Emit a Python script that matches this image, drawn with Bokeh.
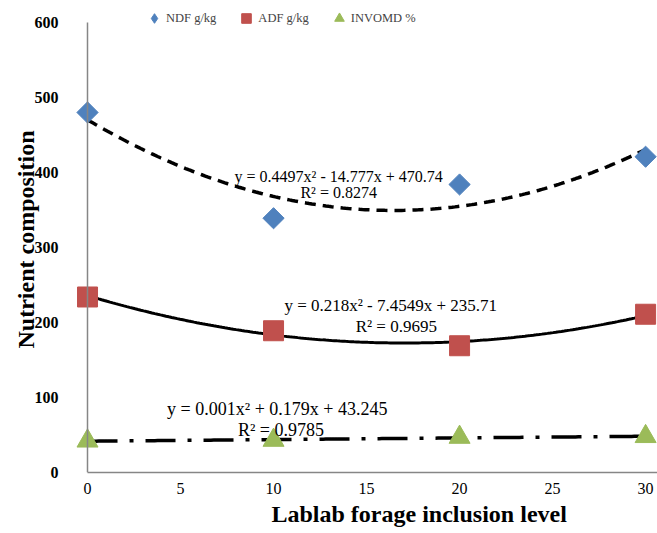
import numpy as np
from bokeh.plotting import figure
from bokeh.models import (Legend, LegendItem, Label, Range1d, FixedTicker, LinearAxis,
                          ColumnDataSource, Title)
from bokeh.embed import file_html
from bokeh.resources import INLINE

# ---- data ----
levels = [0, 10, 20, 30]
ndf = [480, 339, 384, 421]
adf = [234, 189, 169, 211]
invomd = [42, 43, 47, 48]

x_ticks = [0, 5, 10, 15, 20, 25, 30]
y_ticks = [0, 100, 200, 300, 400, 500, 600]

series_names = ["NDF g/kg", "ADF g/kg", "INVOMD %"]
ndf_eq = ["y = 0.4497x\u00b2 - 14.777x + 470.74", "R\u00b2 = 0.8274"]
adf_eq = ["y = 0.218x\u00b2 - 7.4549x + 235.71", "R\u00b2 = 0.9695"]
inv_eq = ["y = 0.001x\u00b2 + 0.179x + 43.245", "R\u00b2 = 0.9785"]
x_title = "Lablab forage inclusion level"
y_title = "Nutrient composition"

# label anchor positions (data units) for the equation boxes
ndf_eq_pos = [(13.5, 395), (13.5, 373)]
adf_eq_pos = [(16.3, 223), (16.6, 195)]
inv_eq_pos = [(10.2, 84), (10.4, 57)]

FONT = "Liberation Serif"
BLUE = "#4F81BD"
RED = "#C0504D"
GREEN = "#9BBB59"
AXIS_GRAY = "#868686"

p = figure(width=657, height=533, output_backend="svg", toolbar_location=None,
           x_range=Range1d(-0.7, 30.64), y_range=Range1d(0, 621.3),
           min_border_left=74, min_border_right=0, min_border_top=6, min_border_bottom=61)
p.outline_line_color = None
p.grid.visible = False
p.background_fill_color = "white"
p.border_fill_color = "white"

# axes
p.xaxis.ticker = FixedTicker(ticks=x_ticks)
p.yaxis.ticker = FixedTicker(ticks=y_ticks)
p.xaxis.bounds = (0, 30.64)
for ax in (p.xaxis, p.yaxis):
    ax.major_tick_line_color = None
    ax.minor_tick_line_color = None
    ax.major_tick_out = 0
    ax.major_tick_in = 0
    ax.major_label_text_font = FONT
    ax.major_label_text_color = "black"
    ax.axis_label_text_font = FONT
    ax.axis_label_text_font_style = "bold"
    ax.axis_label_text_color = "black"
p.xaxis.axis_line_color = AXIS_GRAY
p.xaxis.axis_line_width = 1.5
p.yaxis.axis_line_color = None
p.xaxis.major_label_text_font_size = "16px"
p.yaxis.major_label_text_font_size = "16px"
p.yaxis.major_label_text_font_style = "bold"
p.xaxis.major_label_standoff = 10
p.yaxis.major_label_standoff = 16
p.yaxis.axis_label = y_title
p.yaxis.axis_label_text_font_size = "24px"
p.yaxis.axis_label_standoff = -7

# x-axis title (the original plot area runs on past the cropped right edge,
# so its title sits right of the visible frame's centre)
p.add_layout(Title(text=x_title, align="left", offset=197, standoff=4,
                   text_font=FONT, text_font_size="24px", text_font_style="bold",
                   text_color="black"), "below")

# vertical axis line at x = 0, running from 0 to 600 only
yline = LinearAxis(fixed_location=0, bounds=(0, 600), ticker=FixedTicker(ticks=[]),
                   axis_line_color=AXIS_GRAY, axis_line_width=1.5,
                   major_tick_line_color=None, minor_tick_line_color=None,
                   major_tick_out=0, major_tick_in=0, major_label_text_font_size="0px")
p.add_layout(yline, "left")

# trendlines (2nd-order polynomial fits of each series)
xs = np.linspace(0, 30, 200)
for vals, dash, w in ((ndf, "11 7", 3.5), (adf, "solid", 3), (invomd, "30 12 4 12", 3.5)):
    coef = np.polyfit(levels, vals, 2)
    p.line(xs, np.polyval(coef, xs), line_color="black", line_width=w, line_dash=dash)

src = ColumnDataSource(dict(x=levels, ndf=ndf, adf=adf, inv=invomd))
r_ndf = p.scatter("x", "ndf", source=src, marker="square", angle=np.pi / 4, size=15,
                  fill_color=BLUE, line_color=BLUE)
r_adf = p.scatter("x", "adf", source=src, marker="square", size=20,
                  fill_color=RED, line_color=RED)
r_inv = p.scatter("x", "inv", source=src, marker="triangle", size=21,
                  fill_color=GREEN, line_color=GREEN)
# legend key for NDF: a diamond (legend keys are drawn unrotated)
r_ndf_key = p.scatter("x", "ndf", source=src, marker="diamond", size=0,
                      fill_color=BLUE, line_color=BLUE)

legend = Legend(items=[LegendItem(label=series_names[0], renderers=[r_ndf_key]),
                       LegendItem(label=series_names[1], renderers=[r_adf]),
                       LegendItem(label=series_names[2], renderers=[r_inv])],
                location=(68, 442), orientation="horizontal",
                glyph_width=24, glyph_height=24, label_standoff=-4, spacing=18,
                padding=0, margin=0, border_line_color=None, background_fill_alpha=0,
                label_text_font=FONT, label_text_font_size="12.5px", label_height=24)
p.add_layout(legend, "center")

for lines, pos, fs in ((ndf_eq, ndf_eq_pos, "16px"), (adf_eq, adf_eq_pos, "17px"), (inv_eq, inv_eq_pos, "18px")):
    for t, (lx, ly) in zip(lines, pos):
        p.add_layout(Label(x=lx, y=ly, text=t, text_align="center", text_baseline="middle",
                           text_font=FONT, text_font_size=fs, text_color="black"))

open("out.html", "w").write(file_html(p, INLINE))
